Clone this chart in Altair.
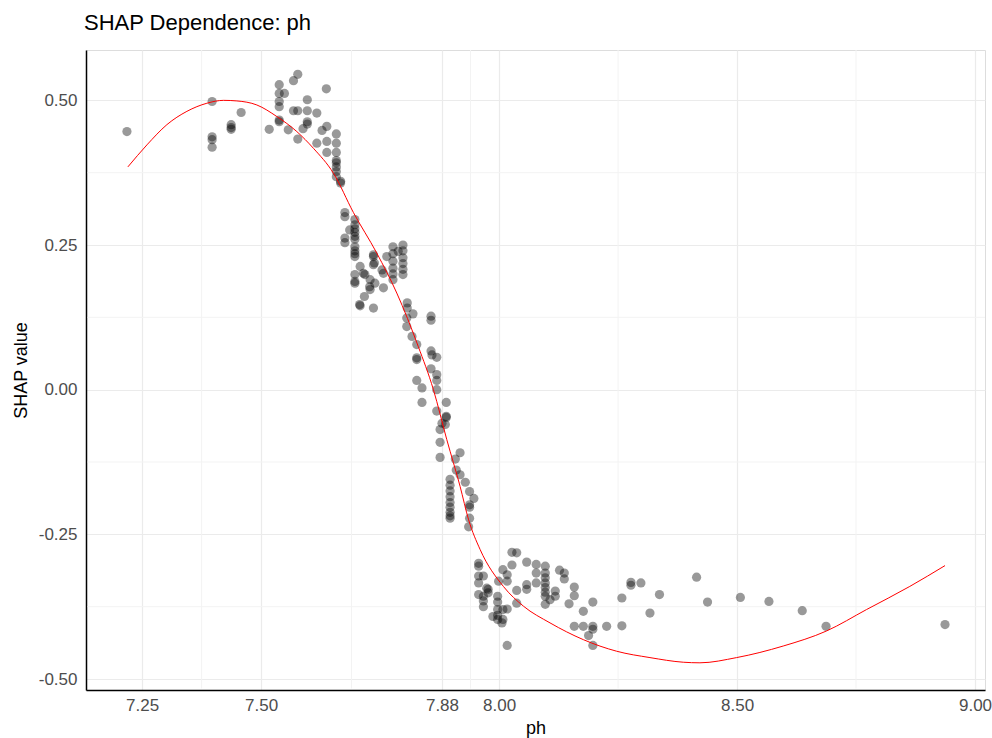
import altair as alt
import pandas as pd

# ---- data ----
ph = [7.218, 7.397, 7.397, 7.397, 7.397, 7.437, 7.437, 7.437, 7.458, 7.517,
      7.538, 7.538, 7.549, 7.538, 7.538, 7.538, 7.538, 7.568, 7.577, 7.557,
      7.577, 7.568, 7.577, 7.597, 7.597, 7.617, 7.597, 7.597, 7.588, 7.637,
      7.617, 7.628, 7.638, 7.638, 7.638, 7.658, 7.658, 7.658, 7.658, 7.658,
      7.658, 7.658, 7.658, 7.667, 7.667,
      7.676, 7.676, 7.697, 7.697, 7.697, 7.697, 7.697, 7.697, 7.686, 7.676,
      7.676, 7.697, 7.697, 7.697, 7.697, 7.708, 7.697, 7.697, 7.715, 7.718,
      7.729, 7.728, 7.736, 7.736, 7.739, 7.717, 7.707, 7.736, 7.729, 7.757,
      7.754, 7.757, 7.764, 7.777, 7.777, 7.777, 7.777, 7.777, 7.777, 7.798,
      7.798, 7.798, 7.798, 7.798, 7.798, 7.788, 7.736, 7.738, 7.697, 7.708,
      7.807, 7.807, 7.819, 7.806, 7.806, 7.817, 7.827, 7.827, 7.827, 7.827,
      7.838, 7.838, 7.857, 7.857, 7.857, 7.859, 7.869, 7.857, 7.869, 7.869,
      7.869, 7.889, 7.869, 7.889, 7.889, 7.880, 7.887, 7.876, 7.876, 7.876,
      7.908, 7.918, 7.910, 7.918, 7.897, 7.897, 7.897, 7.897, 7.897, 7.897,
      7.897, 7.897, 7.897, 7.929, 7.938, 7.947, 7.938, 7.938, 7.938, 7.936,
      7.957, 7.957, 7.957, 7.957, 7.957, 7.967, 7.967, 7.967, 7.974, 7.977,
      7.987, 7.997, 7.997, 7.997, 7.997, 7.997, 8.008, 8.017, 8.008, 8.017,
      8.017, 8.017, 8.027, 8.037, 8.027, 8.037, 8.037, 8.058, 8.058, 8.058,
      8.078, 8.078, 8.078, 8.097, 8.097, 8.097, 8.097, 8.097, 8.097, 8.097,
      8.097, 8.107, 8.118, 8.118, 8.127, 8.137, 8.137, 8.147, 8.158, 8.158,
      8.158, 8.177, 8.177, 8.188, 8.197, 8.197, 8.197, 8.197, 8.226, 8.258,
      8.258, 8.277, 8.277, 8.298, 8.317, 8.337, 8.415, 8.438, 8.507, 8.567,
      8.637, 8.687, 8.937, 7.999, 8.008, 8.006, 7.967, 7.977]

shap = [0.446, 0.498, 0.437, 0.432, 0.419, 0.458, 0.453, 0.450, 0.479, 0.450,
        0.527, 0.512, 0.512, 0.498, 0.489, 0.466, 0.463, 0.534, 0.545, 0.449,
        0.433, 0.482, 0.482, 0.501, 0.482, 0.478, 0.463, 0.459, 0.451, 0.520,
        0.426, 0.448, 0.455, 0.429, 0.410, 0.442, 0.426, 0.410, 0.396, 0.392,
        0.385, 0.377, 0.368, 0.357, 0.360,
        0.306, 0.299, 0.294, 0.285, 0.278, 0.272, 0.265, 0.260, 0.276, 0.262,
        0.254, 0.247, 0.240, 0.235, 0.230, 0.213, 0.199, 0.184, 0.201, 0.199,
        0.190, 0.178, 0.230, 0.216, 0.184, 0.161, 0.147, 0.141, 0.173, 0.176,
        0.207, 0.201, 0.230, 0.247, 0.235, 0.222, 0.210, 0.200, 0.190, 0.250,
        0.240, 0.228, 0.218, 0.208, 0.199, 0.239, 0.233, 0.219, 0.187, 0.145,
        0.150, 0.141, 0.131, 0.124, 0.109, 0.092, 0.078, 0.055, 0.052, 0.016,
        0.003, -0.022, 0.127, 0.120, 0.067, 0.060, 0.056, 0.036, 0.026, 0.016,
        0.000, -0.022, -0.037, -0.046, -0.048, -0.058, -0.060, -0.069, -0.091, -0.117,
        -0.120, -0.109, -0.139, -0.147, -0.155, -0.165, -0.175, -0.185, -0.195, -0.203,
        -0.212, -0.218, -0.222, -0.160, -0.176, -0.188, -0.199, -0.203, -0.222, -0.237,
        -0.300, -0.305, -0.322, -0.334, -0.354, -0.322, -0.357, -0.375, -0.343, -0.351,
        -0.392, -0.357, -0.367, -0.380, -0.390, -0.397, -0.311, -0.320, -0.397, -0.379,
        -0.442, -0.331, -0.281, -0.282, -0.303, -0.347, -0.369, -0.298, -0.337, -0.345,
        -0.302, -0.317, -0.334, -0.305, -0.317, -0.325, -0.334, -0.342, -0.350, -0.357,
        -0.371, -0.363, -0.348, -0.357, -0.312, -0.317, -0.327, -0.370, -0.341, -0.356,
        -0.409, -0.383, -0.409, -0.425, -0.367, -0.409, -0.414, -0.442, -0.409, -0.360,
        -0.408, -0.333, -0.338, -0.334, -0.386, -0.354, -0.324, -0.367, -0.359, -0.366,
        -0.382, -0.409, -0.406, -0.331, -0.380, -0.403, -0.365, -0.345]

curve_x = [7.220, 7.260, 7.302, 7.344, 7.386, 7.421, 7.449, 7.491, 7.533, 7.575,
           7.610, 7.652, 7.694, 7.743, 7.785, 7.830, 7.862, 7.890, 7.918, 7.936,
           7.960, 8.009, 8.051, 8.107, 8.177, 8.247, 8.317, 8.387, 8.422, 8.499,
           8.597, 8.688, 8.772, 8.863, 8.937]
curve_y = [0.385, 0.423, 0.458, 0.481, 0.495, 0.500, 0.499, 0.492, 0.472, 0.446,
           0.417, 0.374, 0.306, 0.236, 0.167, 0.075, 0.000, -0.086, -0.167, -0.225,
           -0.276, -0.340, -0.374, -0.403, -0.432, -0.452, -0.463, -0.471, -0.472, -0.463,
           -0.443, -0.417, -0.380, -0.340, -0.304]

x_breaks = [7.25, 7.5, 7.88, 8.0, 8.5, 9.0]
y_breaks = [-0.5, -0.25, 0.0, 0.25, 0.5]
x_minor = [7.375, 7.69, 7.94, 8.25, 8.75]
y_minor = [-0.375, -0.125, 0.125, 0.375]

X_DOMAIN = [7.132, 9.021]
Y_DOMAIN = [-0.519, 0.587]

W, H = 899, 640
FONT = "Liberation Sans"

pts = pd.DataFrame({"ph": ph, "shap": shap})
curve = pd.DataFrame({"ph": curve_x, "shap": curve_y})
xm = pd.DataFrame({"v": x_minor})
ym = pd.DataFrame({"v": y_minor})

xscale = alt.Scale(domain=X_DOMAIN, nice=False, zero=False)
yscale = alt.Scale(domain=Y_DOMAIN, nice=False, zero=False)

label_expr = "replace(format(datum.value, '.2f'), '\u2212', '-')"

xaxis = alt.Axis(values=x_breaks, labelExpr=label_expr, title="ph",
                 grid=True, gridColor="#ebebeb", gridWidth=1.2,
                 ticks=False, domain=True, domainColor="#000000", domainWidth=1.5,
                 labelFont=FONT, labelFontSize=17, labelColor="#4d4d4d",
                 labelPadding=7, titleFont=FONT, titleFontSize=18,
                 titleFontWeight="normal", titleColor="#000000", titlePadding=6)
yaxis = alt.Axis(values=y_breaks, labelExpr=label_expr, title="SHAP value",
                 grid=True, gridColor="#ebebeb", gridWidth=1.2,
                 ticks=False, domain=True, domainColor="#000000", domainWidth=1.5,
                 labelFont=FONT, labelFontSize=17, labelColor="#4d4d4d",
                 labelPadding=9, titleFont=FONT, titleFontSize=18,
                 titleFontWeight="normal", titleColor="#000000", titlePadding=8)

minor_x = alt.Chart(xm).mark_rule(color="#f3f3f3", strokeWidth=1).encode(
    x=alt.X("v:Q", scale=xscale, axis=xaxis, title="ph"),
    y=alt.value(0), y2=alt.value(H - 1.5))
minor_y = alt.Chart(ym).mark_rule(color="#f3f3f3", strokeWidth=1).encode(
    y=alt.Y("v:Q", scale=yscale, axis=yaxis, title="SHAP value"),
    x=alt.value(1.5), x2=alt.value(W))

points = alt.Chart(pts).mark_circle(size=85, color="#000000", opacity=0.4).encode(
    x=alt.X("ph:Q", scale=xscale, axis=xaxis),
    y=alt.Y("shap:Q", scale=yscale, axis=yaxis))

line = alt.Chart(curve).mark_line(color="#ff0000", strokeWidth=1, interpolate="monotone").encode(
    x=alt.X("ph:Q", scale=xscale, axis=xaxis),
    y=alt.Y("shap:Q", scale=yscale, axis=yaxis))

chart = alt.layer(minor_x, minor_y, points, line).properties(
    width=W, height=H,
    title=alt.TitleParams("SHAP Dependence: ph", anchor="start", frame="group", font=FONT,
                          fontSize=22, fontWeight="normal", color="#000000", offset=15, dx=-2),
    autosize=alt.AutoSizeParams(type="none"),
    padding={"left": 86, "top": 50, "right": 7, "bottom": 48},
).configure_view(strokeWidth=0, stroke="transparent").configure(background="white")

chart.save("out.html", embed_options={"renderer": "svg", "actions": False})
